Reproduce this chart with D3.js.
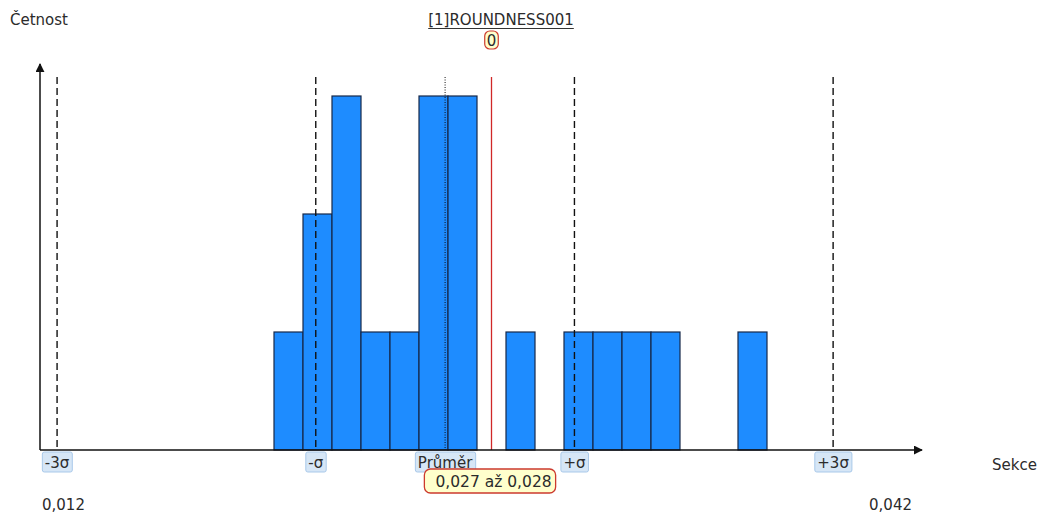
<!DOCTYPE html>
<html>
<head>
<meta charset="utf-8">
<script src="https://cdn.jsdelivr.net/npm/d3@7"></script>
<style>
  body { margin: 0; background: #fff; }
  text { font-family: "DejaVu Sans", sans-serif; fill: #2b2b2b; }
</style>
</head>
<body>
<div id="chart"></div>
<script>
// histogram data
var binStarts = [0.020, 0.021, 0.022, 0.023, 0.024, 0.025, 0.026, 0.027, 0.028,
                 0.029, 0.030, 0.031, 0.032, 0.033, 0.034, 0.035, 0.036];
var binWidth = 0.001;
var counts = [1, 2, 3, 1, 1, 3, 3, 0, 1, 0, 1, 1, 1, 1, 0, 0, 1];

// statistics
var mean = 0.0259;
var sigma = 0.00446;
var sigmaMult = [-3, -1, 0, 1, 3];
var sigmaLabels = ['-3σ', '-σ', 'Průměr', '+σ', '+3σ'];

// cursor bin
var cursorBin = 0.027;
var cursorCount = 0;
var cursorLabel = '0,027 až 0,028';

var xDomain = [0.012, 0.042];
var xTickLabels = ['0,012', '0,042'];
var title = '[1]ROUNDNESS001';

var W = 1045, H = 515;
var svg = d3.select('#chart').append('svg')
  .attr('width', W).attr('height', H);

var x = d3.scaleLinear().domain(xDomain).range([42, 912]);
var y = d3.scaleLinear().domain([0, 3]).range([450, 96]);

var defs = svg.append('defs');
defs.append('marker')
  .attr('id', 'arrow')
  .attr('viewBox', '0 0 10 10')
  .attr('refX', 9).attr('refY', 5)
  .attr('markerWidth', 9).attr('markerHeight', 9)
  .attr('markerUnits', 'userSpaceOnUse')
  .attr('orient', 'auto')
  .append('path').attr('d', 'M0,0L10,5L0,10z').attr('fill', '#111');

// bars
svg.append('g').selectAll('rect')
  .data(counts.map(function(c, i) { return {x0: binStarts[i], c: c}; })
    .filter(function(d) { return d.c > 0; }))
  .enter().append('rect')
    .attr('x', function(d) { return x(d.x0); })
    .attr('width', function(d) { return x(d.x0 + binWidth) - x(d.x0); })
    .attr('y', function(d) { return y(d.c); })
    .attr('height', function(d) { return y(0) - y(d.c); })
    .attr('fill', '#1e8cff')
    .attr('stroke', '#16284a')
    .attr('stroke-width', 1.2);

// sigma lines
var lineTop = 77;
svg.append('g').selectAll('line')
  .data(sigmaMult)
  .enter().append('line')
    .attr('x1', function(m) { return x(mean + m * sigma); })
    .attr('x2', function(m) { return x(mean + m * sigma); })
    .attr('y1', lineTop).attr('y2', y(0))
    .attr('stroke', '#111')
    .attr('stroke-width', function(m) { return m === 0 ? 1 : 1.4; })
    .attr('stroke-dasharray', function(m) { return m === 0 ? '1,1.5' : '7,4'; });

// cursor line
var cx = x(cursorBin + binWidth / 2);
svg.append('line')
  .attr('x1', cx).attr('x2', cx).attr('y1', lineTop).attr('y2', y(0))
  .attr('stroke', '#d02828').attr('stroke-width', 1.3);

// axes
svg.append('line')
  .attr('x1', 40).attr('x2', 922).attr('y1', y(0)).attr('y2', y(0))
  .attr('stroke', '#111').attr('stroke-width', 1.5)
  .attr('marker-end', 'url(#arrow)');
svg.append('line')
  .attr('x1', 40).attr('x2', 40).attr('y1', y(0)).attr('y2', 64)
  .attr('stroke', '#111').attr('stroke-width', 1.5)
  .attr('marker-end', 'url(#arrow)');

// sigma labels
var labG = svg.append('g').selectAll('g')
  .data(sigmaMult)
  .enter().append('g');
labG.append('text')
  .attr('x', function(m) { return x(mean + m * sigma); })
  .attr('y', 467.5)
  .attr('text-anchor', 'middle')
  .style('font-size', '15px')
  .text(function(m, i) { return sigmaLabels[i]; })
  .each(function() {
    var b = this.getBBox();
    d3.select(this.parentNode).insert('rect', 'text')
      .attr('x', b.x - 2.5).attr('y', 452)
      .attr('width', b.width + 5).attr('height', 20)
      .attr('rx', 2)
      .attr('fill', '#d6e6f6').attr('stroke', '#a9c9ea');
  });

// cursor tooltip
var tip = svg.append('g');
var tipText = tip.append('text')
  .attr('x', cx + 2).attr('y', 487)
  .attr('text-anchor', 'middle')
  .style('font-size', '15.5px')
  .text(cursorLabel);
var tb = tipText.node().getBBox();
tip.insert('rect', 'text')
  .attr('x', tb.x - 11).attr('y', 469)
  .attr('width', tb.width + 15).attr('height', 24)
  .attr('rx', 6)
  .attr('fill', '#ffffcc').attr('stroke', '#cc3a2e').attr('stroke-width', 1.3);

// title
var tt = svg.append('text')
  .attr('x', 501).attr('y', 25)
  .attr('text-anchor', 'middle')
  .style('font-size', '15px')
  .text(title);
var ttb = tt.node().getBBox();
svg.append('line')
  .attr('x1', ttb.x).attr('x2', ttb.x + ttb.width)
  .attr('y1', 28.5).attr('y2', 28.5)
  .attr('stroke', '#333').attr('stroke-width', 1.2);

var cc = svg.append('g');
var ccText = cc.append('text')
  .attr('x', cx).attr('y', 46)
  .attr('text-anchor', 'middle')
  .style('font-size', '15px')
  .text(cursorCount);
var ccb = ccText.node().getBBox();
cc.insert('rect', 'text')
  .attr('x', ccb.x - 2).attr('y', 31)
  .attr('width', ccb.width + 4).attr('height', 18)
  .attr('rx', 5)
  .attr('fill', '#ffffcc').attr('stroke', '#cc3a2e').attr('stroke-width', 1.2);

// axis titles and end tick labels
svg.append('text').attr('x', 10).attr('y', 25)
  .style('font-size', '15px').text('Četnost');
svg.append('text').attr('x', 992).attr('y', 470)
  .style('font-size', '15px').text('Sekce');
svg.append('text').attr('x', x(xDomain[0])).attr('y', 510)
  .style('font-size', '15px').text(xTickLabels[0]);
svg.append('text').attr('x', x(xDomain[1])).attr('y', 510)
  .attr('text-anchor', 'end')
  .style('font-size', '15px').text(xTickLabels[1]);
</script>
</body>
</html>
